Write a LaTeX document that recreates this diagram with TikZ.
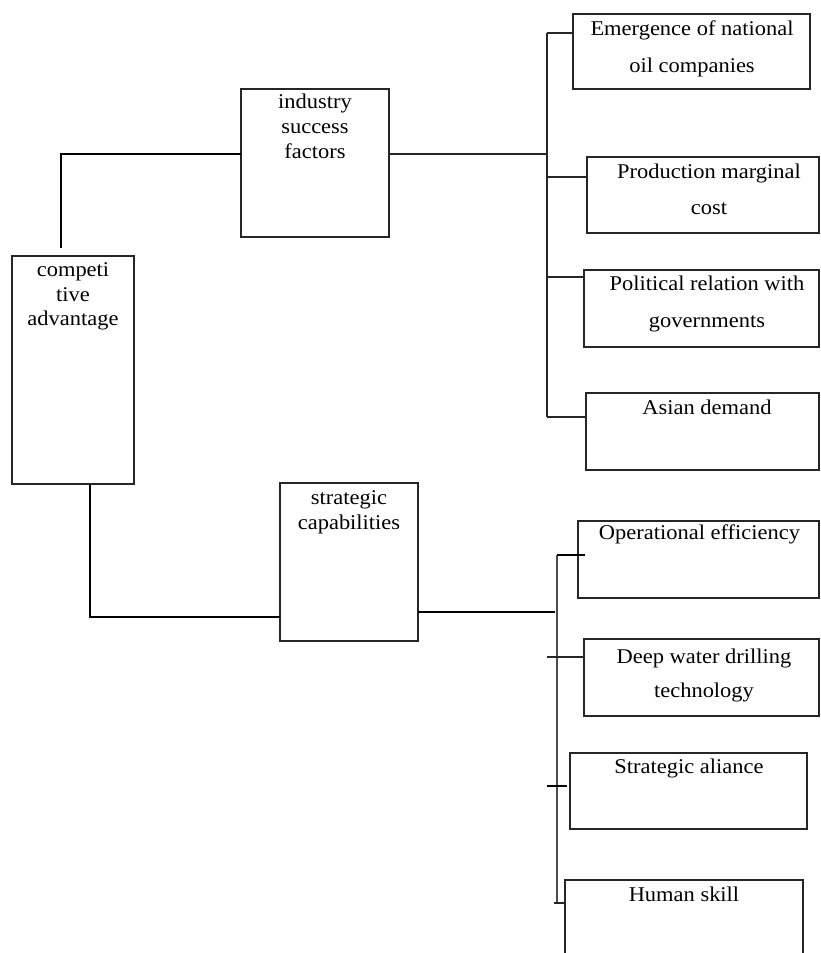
\documentclass[tikz,border=0pt]{standalone}
\usepackage{fontspec}
\setmainfont{Liberation Serif}[FakeStretch=1.07]
\begin{document}
\begin{tikzpicture}[x=1pt,y=-1pt,
  box/.style={draw=black!85,line width=1.1pt,inner sep=0pt,outer sep=0pt,anchor=north west,rectangle},
  txt/.style={font=\fontsize{21}{25}\selectfont,inner sep=0pt,anchor=base,text=black},
  thickc/.style={draw=black,line width=2.6pt},
  midc/.style={draw=black,line width=2pt},
  thinc/.style={draw=black!85,line width=1.2pt},
  trunkc/.style={draw=black!70,line width=1.5pt}]
\useasboundingbox (0,0) rectangle (820,953);

% boxes
\node[box,minimum width=122pt,minimum height=228pt] (comp) at (12,256) {};
\node[box,minimum width=148pt,minimum height=148pt] (isf) at (241,89) {};
\node[box,minimum width=138pt,minimum height=158pt] (strat) at (280,483) {};
\node[box,minimum width=237pt,minimum height=75pt] (emer) at (573,14) {};
\node[box,minimum width=232pt,minimum height=76pt] (prod) at (587,157) {};
\node[box,minimum width=235pt,minimum height=77pt] (pol) at (584,270) {};
\node[box,minimum width=233pt,minimum height=77pt] (asia) at (586,393) {};
\node[box,minimum width=241pt,minimum height=77pt] (opeff) at (578,521) {};
\node[box,minimum width=235pt,minimum height=77pt] (deep) at (584,639) {};
\node[box,minimum width=237pt,minimum height=76pt] (sal) at (570,753) {};
\node[box,minimum width=238pt,minimum height=95pt] (hum) at (565,880) {};

% texts
\node[txt] (comp1) at (73,276) {competi};
\node[txt] (comp2) at (73,301) {tive};
\node[txt] (comp3) at (73,325) {advantage};
\node[txt] (isf1) at (315,108) {industry};
\node[txt] (isf2) at (315,133) {success};
\node[txt] (isf3) at (315,158) {factors};
\node[txt] (strat1) at (349,504) {strategic};
\node[txt] (strat2) at (349,529) {capabilities};
\node[txt] (emer1) at (692,35) {Emergence of national};
\node[txt] (emer2) at (692,72) {oil companies};
\node[txt] (prod1) at (709,178) {Production marginal};
\node[txt] (prod2) at (709,214) {cost};
\node[txt] (pol1) at (707,290) {Political relation with};
\node[txt] (pol2) at (707,327) {governments};
\node[txt] (asia1) at (707,414) {Asian demand};
\node[txt] (opeff1) at (699.5,539.5) {Operational efficiency};
\node[txt] (deep1) at (704,663) {Deep water drilling};
\node[txt] (deep2) at (704,697) {technology};
\node[txt] (sal1) at (689,773) {Strategic aliance};
\node[txt] (hum1) at (684,901) {Human skill};

% named points of the trunks
\coordinate (tF) at (547,154);
\coordinate (tA) at (547,33);
\coordinate (tB) at (547,177);
\coordinate (tC) at (547,277);
\coordinate (tD) at (547,417);
\coordinate (sL) at (90,617);
\coordinate (uF) at (555,612);
\coordinate (uT) at (557,555);
\coordinate (uB) at (557,903);
\coordinate (u2) at (547,657);
\coordinate (u3) at (547,786);
\coordinate (u4) at (554,903);

% upper connectors
\draw[thickc] ([shift={(-12,-8)}]comp.north) |- (isf.west |- tF);
\draw[thinc] (isf.east |- tF) -- (tF);
\draw[thinc] (tA) -- (tD);
\draw[thinc] (tA) -- (emer.west |- tA);
\draw[thinc] (tB) -- (prod.west |- tB);
\draw[thinc] (tC) -- (pol.west |- tC);
\draw[thinc] (tD) -- (asia.west |- tD);

% lower connectors
\draw[thickc] (comp.south -| sL) -- (sL) -- (strat.west |- sL);
\draw[midc] (strat.east |- uF) -- (uF);
\draw[trunkc] (uT) -- (uB);
\draw[midc] (uT) -- ([xshift=7pt]opeff.west |- uT);
\draw[thinc] (u2) -- (deep.west |- u2);
\draw[midc] (u3) -- ([xshift=-3pt]sal.west |- u3);
\draw[thinc] (u4) -- (hum.west |- u4);
\end{tikzpicture}
\end{document}
